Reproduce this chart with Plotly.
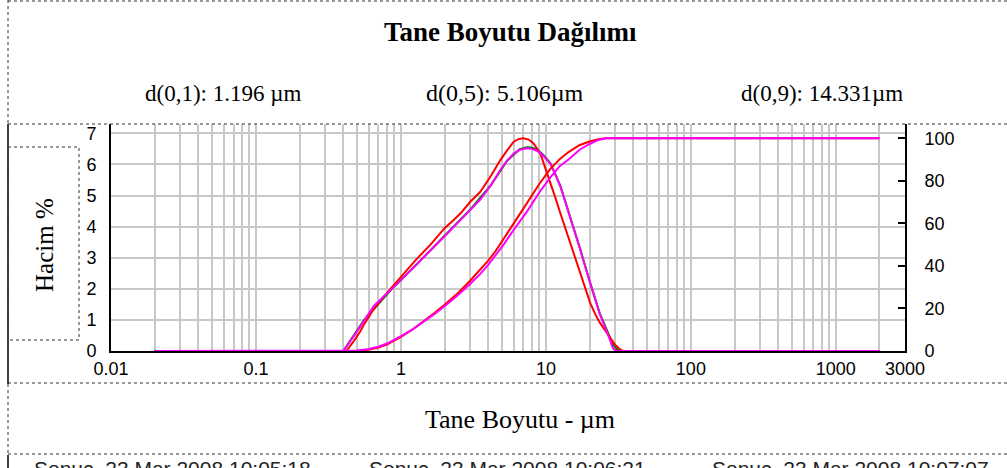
import plotly.graph_objects as go

# ---------------- data ----------------
freq_red_x = [0.02, 0.42, 0.47, 0.52, 0.556, 0.65, 0.75, 0.848, 1.0, 1.29, 1.6, 2.0, 2.31, 2.57,
              3.01, 3.53, 4.2, 4.85, 5.4, 6.0, 6.5, 7.0, 7.6, 8.2, 9.14, 10.0, 10.7, 11.6, 12.6,
              13.6, 14.7, 16.0, 17.3, 18.7, 20.2, 21.8, 23.5, 25.5, 27.8, 30.0, 32.5, 34.0, 2000]
freq_red_y = [0, 0, 0.3, 0.6, 0.85, 1.35, 1.72, 2.0, 2.36, 2.97, 3.42, 3.95, 4.21, 4.42,
              4.80, 5.12, 5.65, 6.14, 6.45, 6.73, 6.82, 6.84, 6.80, 6.68, 6.36, 5.85, 5.42, 4.94, 4.42,
              3.95, 3.50, 2.95, 2.45, 1.98, 1.55, 1.2, 0.92, 0.68, 0.42, 0.2, 0.05, 0, 0]

freq_mag_x = [0.02, 0.40, 0.48, 0.556, 0.65, 0.75, 0.848, 1.0, 1.29, 1.6, 2.08, 2.57, 3.01, 3.53,
              4.2, 4.85, 5.4, 6.0, 6.6, 7.4, 8.0, 8.67, 9.5, 10.7, 11.6, 12.6, 13.6, 14.7, 16.0,
              17.3, 18.7, 20.2, 21.8, 23.5, 25.0, 26.4, 27.8, 29.0, 30.5, 2000]
freq_mag_y = [0, 0, 0.52, 0.99, 1.45, 1.72, 1.95, 2.28, 2.80, 3.23, 3.77, 4.21, 4.55, 4.87,
              5.35, 5.82, 6.12, 6.35, 6.47, 6.52, 6.50, 6.44, 6.30, 6.03, 5.70, 5.28, 4.80, 4.31, 3.75,
              3.24, 2.70, 2.17, 1.67, 1.2, 0.88, 0.62, 0.33, 0.08, 0, 0]

freq_grn_x = [0.02, 0.40, 0.556, 0.848, 1.29, 2.08, 3.01, 4.2, 5.4, 6.6, 7.4, 8.0, 8.67, 9.5, 10.7,
              12.6, 14.7, 17.3, 20.2, 23.5, 26.4, 29.0, 31.0, 32.5, 2000]
freq_grn_y = [0, 0, 0.99, 1.95, 2.80, 3.77, 4.55, 5.35, 6.12, 6.49, 6.55, 6.54, 6.48, 6.33, 6.05,
              5.30, 4.33, 3.26, 2.19, 1.22, 0.66, 0.2, 0.05, 0, 0]

cum_red_x = [0.02, 0.42, 0.5, 0.6, 0.7, 0.8, 0.9, 1.0, 1.196, 1.4, 1.7, 2.0, 2.5, 3.0, 3.5, 4.0,
             4.5, 5.106, 6.0, 7.4, 9.0, 10.7, 12.5, 14.33, 17.0, 20.0, 23.0, 26.0, 2000]
cum_red_y = [0, 0, 0.1, 0.6, 1.6, 3.0, 4.8, 6.6, 10, 13.4, 17.8, 21.7, 27.5, 33, 38, 42.5,
             47, 52.5, 60, 69.5, 78.5, 85.5, 90.3, 93.5, 96.7, 98.5, 99.5, 100, 100]

cum_mag_x = [0.02, 0.40, 0.5, 0.6, 0.7, 0.8, 0.9, 1.0, 1.196, 1.4, 1.7, 2.0, 2.5, 3.0, 3.5, 4.0,
             4.5, 5.106, 6.0, 7.4, 9.0, 10.7, 12.5, 14.33, 17.0, 20.0, 23.0, 26.0, 2000]
cum_mag_y = [0, 0, 0.2, 0.9, 2.0, 3.5, 5.2, 7.0, 10, 13.2, 17.3, 21, 26.5, 31.5, 36, 40.5,
             45, 50, 57, 65.5, 74.5, 81.5, 87, 90, 94.5, 97.3, 99.2, 100, 100]

x_tickvals = [1e-2, 2e-2, 3e-2, 4e-2, 5e-2, 6e-2, 7e-2, 8e-2, 9e-2,
              0.1, 0.2, 0.3, 0.4, 0.5, 0.6, 0.7, 0.8, 0.9,
              1, 2, 3, 4, 5, 6, 7, 8, 9,
              10, 20, 30, 40, 50, 60, 70, 80, 90,
              100, 200, 300, 400, 500, 600, 700, 800, 900,
              1000, 2000, 3000]
x_ticklabels = {0.01: "0.01", 0.1: "0.1", 1: "1", 10: "10", 100: "100", 1000: "1000", 3000: "3000"}
y_left_ticks = [0, 1, 2, 3, 4, 5, 6, 7]
y_right_ticks = [0, 20, 40, 60, 80, 100]

title_text = "Tane Boyutu Dağılımı"
d_texts = ["d(0,1): 1.196 µm", "d(0,5): 5.106µm", "d(0,9): 14.331µm"]
x_title = "Tane Boyutu - µm"
y_title = "Hacim %"
legend_texts = ["Sonuç, 23 Mar 2008 10:05:18", "Sonuç, 23 Mar 2008 10:06:21",
                "Sonuç, 23 Mar 2008 10:07:07"]

# ---------------- layout geometry ----------------
W, H = 1007, 468
L, R, T, B = 111, 905, 124, 351   # plot area pixel box


def px(x):
    return (x - L) / (R - L)


def py(y):
    return (B - y) / (B - T)


SERIF = "Liberation Serif"
SANS = "Liberation Sans"

fig = go.Figure()
lw = 2
fig.add_trace(go.Scatter(x=freq_grn_x, y=freq_grn_y, mode="lines",
                         line=dict(color="#007a00", width=lw), yaxis="y"))
fig.add_trace(go.Scatter(x=freq_red_x, y=freq_red_y, mode="lines",
                         line=dict(color="#ff0000", width=lw), yaxis="y"))
fig.add_trace(go.Scatter(x=cum_red_x, y=cum_red_y, mode="lines",
                         line=dict(color="#ff0000", width=lw), yaxis="y2"))
fig.add_trace(go.Scatter(x=freq_mag_x, y=freq_mag_y, mode="lines",
                         line=dict(color="#ff00ff", width=lw), yaxis="y"))
fig.add_trace(go.Scatter(x=cum_mag_x, y=cum_mag_y, mode="lines",
                         line=dict(color="#ff00ff", width=lw), yaxis="y2"))

grid_col = "#c8c8c8"
fig.update_layout(
    width=W, height=H,
    margin=dict(l=L, r=W - R, t=T, b=H - B, pad=0),
    paper_bgcolor="white", plot_bgcolor="white",
    showlegend=False,
    xaxis=dict(type="log", range=[-2, 3.4771], tickvals=x_tickvals,
               ticktext=[x_ticklabels.get(v, "") for v in x_tickvals],
               showgrid=True, gridcolor=grid_col, gridwidth=1.5,
               showline=True, linecolor="black", linewidth=2, ticks="",
               tickfont=dict(family=SANS, size=18, color="black"), zeroline=False,
               ticklabelstandoff=0),
    yaxis=dict(range=[0, 7.3], tickvals=y_left_ticks, showgrid=True, gridcolor=grid_col,
               gridwidth=1.5, showline=True, linecolor="black", linewidth=2, ticks="",
               tickfont=dict(family=SANS, size=18, color="black"), zeroline=False,
               ticklabelstandoff=9),
    yaxis2=dict(range=[0, 106.7], tickvals=y_right_ticks, overlaying="y", side="right",
                showgrid=False, showline=True, linecolor="black", linewidth=2,
                ticks="inside", ticklen=7, tickwidth=2, tickcolor="black",
                tickfont=dict(family=SANS, size=18, color="black"), zeroline=False,
                ticklabelstandoff=14),
)

ann = []
ann.append(dict(x=px(510), y=py(32), text="<b>%s</b>" % title_text,
                font=dict(family=SERIF, size=27, color="black")))
for cx, t, fs in zip([223, 504, 822], d_texts, [23, 24, 23]):
    ann.append(dict(x=px(cx), y=py(93), text=t, font=dict(family=SERIF, size=fs, color="black")))
ann.append(dict(x=px(520), y=py(419), text=x_title, font=dict(family=SERIF, size=26, color="black")))
ann.append(dict(x=px(44), y=py(245), text=y_title, textangle=-90,
                font=dict(family=SERIF, size=25, color="black")))
for cx, t in zip([172, 507, 850], legend_texts):
    ann.append(dict(x=px(cx), y=py(455), text=t, yanchor="top",
                    font=dict(family=SANS, size=21, color="#222")))
for a in ann:
    a.update(xref="paper", yref="paper", showarrow=False)
    a.setdefault("yanchor", "middle")
    a.setdefault("xanchor", "center")
fig.update_layout(annotations=ann)

dot = dict(color="#333", width=1, dash="dot")
solid = dict(color="black", width=1.5)
shapes = [
    dict(type="line", x0=px(8), x1=px(W), y0=py(1), y1=py(1), line=dot),
    dict(type="line", x0=px(8), x1=px(8), y0=py(0), y1=py(124), line=dot),
    dict(type="line", x0=px(8), x1=px(8), y0=py(124), y1=py(384), line=solid),
    dict(type="line", x0=px(8), x1=px(8), y0=py(384), y1=py(455), line=dot),
    dict(type="line", x0=px(8), x1=px(8), y0=py(455), y1=py(H), line=solid),
    dict(type="line", x0=px(8), x1=px(W), y0=py(124), y1=py(124), line=dot),
    dict(type="line", x0=px(8), x1=px(W), y0=py(383), y1=py(383), line=dot),
    dict(type="line", x0=px(8), x1=px(W), y0=py(454), y1=py(454), line=dot),
    dict(type="rect", x0=px(8), x1=px(79), y0=py(147), y1=py(340), line=dot),
]
for s in shapes:
    s.update(xref="paper", yref="paper", layer="above")
fig.update_layout(shapes=shapes)

fig.write_html("out.html")
